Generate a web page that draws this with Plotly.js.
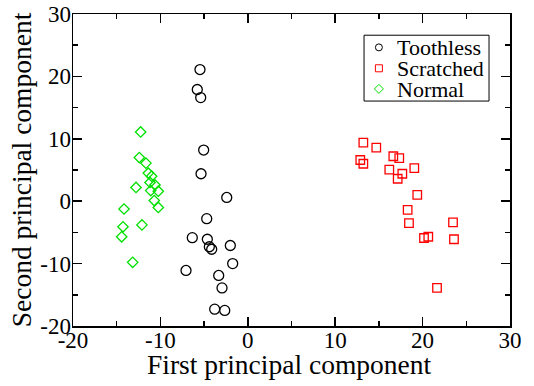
<!DOCTYPE html>
<html>
<head>
<meta charset="utf-8">
<script src="https://cdn.plot.ly/plotly-3.0.1.min.js"></script>
<style>html,body{margin:0;padding:0;background:#fff;}#chart{width:534px;height:386px;}</style>
</head>
<body>
<div id="chart"></div>
<script>
// Toothless (black circles)
const toothlessX = [-5.47, -5.78, -5.39, -5.05, -5.35, -2.41, -4.70, -6.35, -4.63, -4.40, -4.13, -2.00, -1.73, -7.07, -3.33, -2.95, -3.79, -2.64];
const toothlessY = [21.1, 17.9, 16.6, 8.2, 4.4, 0.6, -2.8, -5.85, -6.1, -7.3, -7.7, -7.1, -10.0, -11.1, -11.9, -13.9, -17.3, -17.5];
// Scratched (red squares)
const scratchedX = [13.22, 14.70, 12.87, 13.22, 16.65, 17.33, 16.19, 19.05, 17.68, 17.15, 19.39, 18.29, 18.44, 23.48, 20.16, 20.65, 23.59, 21.65];
const scratchedY = [9.4, 8.6, 6.6, 6.0, 7.2, 6.9, 5.05, 5.3, 4.4, 3.6, 1.0, -1.4, -3.5, -3.4, -5.9, -5.7, -6.1, -13.9];
// Normal (green diamonds)
const normalX = [-12.26, -12.41, -11.65, -11.38, -11.00, -11.19, -10.62, -12.79, -11.11, -10.24, -10.70, -10.24, -14.16, -12.11, -14.28, -14.43, -13.17];
const normalY = [11.1, 7.0, 6.1, 4.5, 4.0, 3.0, 2.6, 2.2, 1.7, 1.6, 0.1, -1.0, -1.25, -3.8, -4.1, -5.7, -9.8];

const seriesNames = ["Toothless", "Scratched", "Normal"];
const seriesColors = ["#000000", "#ff0000", "#00e000"];

// Tick values and labels (hyphen minus as in the reference)
const xTickVals = [-20, -10, 0, 10, 20, 30];
const xTickText = ["-20", "-10", "0", "10", "20", "30"];
const yTickVals = [-20, -10, 0, 10, 20, 30];
const yTickText = ["-20", "-10", "0", "10", "20", "30"];

const xTitle = "First principal component";
const yTitle = "Second principal component";

const FONT = "Liberation Serif, Times New Roman, serif";

const traces = [
  {x: toothlessX, y: toothlessY, name: seriesNames[0], mode: "markers", type: "scatter",
   marker: {symbol: "circle-open", size: 10, color: seriesColors[0], line: {width: 1.3, color: seriesColors[0]}}},
  {x: scratchedX, y: scratchedY, name: seriesNames[1], mode: "markers", type: "scatter",
   marker: {symbol: "square-open", size: 8.5, color: seriesColors[1], line: {width: 1.3, color: seriesColors[1]}}},
  {x: normalX, y: normalY, name: seriesNames[2], mode: "markers", type: "scatter",
   marker: {symbol: "diamond-open", size: 8, color: seriesColors[2], line: {width: 1.3, color: seriesColors[2]}}}
];

const axisCommon = {
  showgrid: false, zeroline: false, showline: true, linecolor: "#000", linewidth: 1.5,
  mirror: "ticks", ticks: "inside", ticklen: 9, tickwidth: 1.5, tickcolor: "#000",
  tickfont: {family: FONT, size: 23, color: "#000"},
  minor: {ticks: "inside", ticklen: 5, tickwidth: 1.5, tickcolor: "#000", dtick: 5, showgrid: false}
};

// Manual legend (paper coordinates)
const legX0 = 0.666, legX1 = 0.952, legY0 = 0.721, legY1 = 0.932;
const legSymX = 0.700, legTextX = 0.736;
const legRows = [0.893, 0.826, 0.760];

const shapes = [
  {type: "rect", xref: "paper", yref: "paper", x0: legX0, x1: legX1, y0: legY0, y1: legY1,
   line: {color: "#000", width: 1}, fillcolor: "rgba(255,255,255,0)"},
  {type: "circle", xref: "paper", yref: "paper", xsizemode: "pixel", ysizemode: "pixel",
   xanchor: legSymX, yanchor: legRows[0], x0: -3.5, x1: 3.5, y0: -3.5, y1: 3.5,
   line: {color: seriesColors[0], width: 1}},
  {type: "rect", xref: "paper", yref: "paper", xsizemode: "pixel", ysizemode: "pixel",
   xanchor: legSymX, yanchor: legRows[1], x0: -3.5, x1: 3.5, y0: -3.5, y1: 3.5,
   line: {color: seriesColors[1], width: 1}},
  {type: "path", xref: "paper", yref: "paper", xsizemode: "pixel", ysizemode: "pixel",
   xanchor: legSymX, yanchor: legRows[2], path: "M 0 4.5 L 4.5 0 L 0 -4.5 L -4.5 0 Z",
   line: {color: seriesColors[2], width: 1}}
];

const annotations = seriesNames.map((n, i) => ({
  xref: "paper", yref: "paper", x: legTextX, y: legRows[i], xanchor: "left", yanchor: "middle",
  text: n, showarrow: false, height: 20, valign: "middle",
  font: {family: FONT, size: 22, color: "#000"}
}));
// x-axis title placed just below the tick labels, as in the reference
annotations.push({
  xref: "paper", yref: "paper", x: 0.494, y: -0.122, xanchor: "center", yanchor: "middle",
  text: xTitle, showarrow: false,
  font: {family: FONT, size: 27.5, color: "#000"}
});

const layout = {
  width: 534, height: 386,
  margin: {l: 73, r: 24, t: 14, b: 60},
  paper_bgcolor: "#fff", plot_bgcolor: "#fff",
  showlegend: false,
  font: {family: FONT, color: "#000"},
  xaxis: Object.assign({}, axisCommon, {
    range: [-20, 30], tickmode: "array", tickvals: xTickVals, ticktext: xTickText,
    ticklabelstandoff: -7
  }),
  yaxis: Object.assign({}, axisCommon, {
    range: [-20, 30], tickmode: "array", tickvals: yTickVals, ticktext: yTickText,
    ticklabelstandoff: -4,
    title: {text: yTitle, font: {family: FONT, size: 27.5, color: "#000"}, standoff: 0}
  }),
  shapes: shapes,
  annotations: annotations
};

Plotly.newPlot("chart", traces, layout, {displayModeBar: false, staticPlot: true});
</script>
</body>
</html>
